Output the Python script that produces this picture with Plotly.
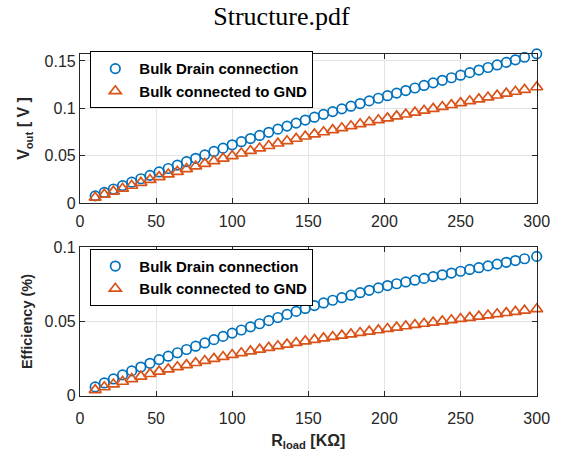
import plotly.graph_objects as go

r_load = [10, 16, 22, 28, 34, 40, 46, 52, 58, 64, 70, 76, 82, 88, 94, 100, 106, 112, 118, 124,
          130, 136, 142, 148, 154, 160, 166, 172, 178, 184, 190, 196, 202, 208, 214, 220, 226,
          232, 238, 244, 250, 256, 262, 268, 274, 280, 286, 292, 300]

vout_bulk_drain = [.0078, .0114, .0150, .0186, .0222, .0258, .0294, .0330, .0366, .0402, .0438,
                   .0474, .0510, .0546, .0581, .0616, .0649, .0682, .0715, .0748, .0781, .0813,
                   .0845, .0877, .0907, .0937, .0966, .0995, .1023, .1051, .1079, .1107, .1134,
                   .1161, .1188, .1215, .1242, .1269, .1296, .1323, .1350, .1377, .1404, .1431,
                   .1458, .1485, .1512, .1539, .1575]

vout_bulk_gnd = [.0060, .0092, .0124, .0155, .0186, .0217, .0247, .0277, .0305, .0333, .0361,
                 .0389, .0417, .0445, .0472, .0499, .0526, .0553, .0579, .0605, .0631, .0656,
                 .0681, .0705, .0728, .0750, .0772, .0793, .0814, .0835, .0856, .0877, .0897,
                 .0917, .0937, .0957, .0977, .0997, .1017, .1037, .1057, .1077, .1097, .1117,
                 .1137, .1157, .1177, .1197, .1224]

eff_bulk_drain = [.0060, .0087, .0114, .0141, .0168, .0194, .0219, .0244, .0267, .0290, .0312,
                  .0334, .0356, .0378, .0400, .0422, .0443, .0464, .0485, .0506, .0527, .0548,
                  .0568, .0588, .0607, .0625, .0643, .0660, .0677, .0694, .0710, .0726, .0742,
                  .0754, .0766, .0778, .0790, .0802, .0814, .0826, .0838, .0850, .0862, .0874,
                  .0886, .0898, .0910, .0922, .0938]

eff_bulk_gnd = [.0040, .0059, .0078, .0096, .0114, .0131, .0148, .0164, .0179, .0194, .0208,
                .0222, .0236, .0250, .0263, .0276, .0288, .0300, .0312, .0324, .0335, .0346,
                .0357, .0368, .0378, .0388, .0397, .0406, .0415, .0424, .0433, .0442, .0451,
                .0460, .0469, .0478, .0486, .0494, .0502, .0510, .0518, .0526, .0534, .0542,
                .0550, .0558, .0566, .0574, .0584]

names = ["Bulk Drain connection", "Bulk connected to GND"]
x_ticks = [0, 50, 100, 150, 200, 250, 300]
y1_ticks = [0, 0.05, 0.1, 0.15]
y1_labels = ["0", "0.05", "0.1", "0.15"]
y2_ticks = [0, 0.05, 0.1]
y2_labels = ["0", "0.05", "0.1"]

BLUE = "#0072BD"
ORANGE = "#D95319"
AX = "#262626"
GRID = "#e3e3e3"

W, H = 563, 462
fig = go.Figure()

def add(y, name, color, symbol, xa, ya, legend, size):
    fig.add_trace(go.Scatter(
        x=r_load, y=y, mode="markers", name=name, legend=legend,
        xaxis=xa, yaxis=ya,
        marker=dict(symbol=symbol, size=size, color=color,
                    line=dict(color=color, width=1.7)),
        cliponaxis=False))

add(vout_bulk_drain, names[0], BLUE, "circle-open", "x", "y", "legend", 9.5)
add(vout_bulk_gnd, names[1], ORANGE, "triangle-up-open", "x", "y", "legend", 10.5)
add(eff_bulk_drain, names[0], BLUE, "circle-open", "x2", "y2", "legend2", 9.5)
add(eff_bulk_gnd, names[1], ORANGE, "triangle-up-open", "x2", "y2", "legend2", 10.5)

xdom = [78.3 / W, 549.3 / W]
y1dom = [(H - 202.7) / H, (H - 47.5) / H]
y2dom = [(H - 402.7) / H, (H - 248.3) / H]

tickfont = dict(family="Liberation Sans, Arial", size=16, color=AX)
common = dict(showline=True, linecolor=AX, linewidth=1, mirror="ticks", ticks="inside",
              ticklen=5, tickcolor=AX, showgrid=True, gridcolor=GRID, gridwidth=1,
              zeroline=False, tickfont=tickfont)

legfont = dict(family="Liberation Sans, Arial", size=15, color="black", weight="bold")
labfont = dict(family="Liberation Sans, Arial", size=16, color=AX)

fig.update_layout(
    width=W, height=H,
    margin=dict(l=0, r=0, t=0, b=0),
    paper_bgcolor="white", plot_bgcolor="white",
    title=dict(text="Structure.pdf", x=0.5, xanchor="center", y=1 - 16 / H, yanchor="middle",
               font=dict(family="Liberation Serif, Times New Roman", size=26, color="black")),
    xaxis=dict(domain=xdom, range=[0, 300], tickvals=x_ticks, anchor="y",
               ticklabelstandoff=4, **common),
    yaxis=dict(domain=y1dom, range=[0, 0.1576], tickvals=y1_ticks, ticktext=y1_labels,
               anchor="x",
               title=dict(text="<b>V<sub>out</sub> [ V ]</b>", standoff=10, font=labfont),
               **common),
    xaxis2=dict(domain=xdom, range=[0, 300], tickvals=x_ticks, anchor="y2",
                ticklabelstandoff=8,
                title=dict(text="<b>R<sub>load</sub> [KΩ]</b>", standoff=8, font=labfont),
                **common),
    yaxis2=dict(domain=y2dom, range=[0, 0.1], tickvals=y2_ticks, ticktext=y2_labels,
                anchor="x2",
                title=dict(text="<b>Efficiency (%)</b>", standoff=8,
                           font=dict(family="Liberation Sans, Arial", size=14.5, color=AX)),
                **common),
    legend=dict(x=89 / W, y=(H - 45) / H, xanchor="left", yanchor="top",
                bordercolor="black", borderwidth=1, bgcolor="white", font=legfont,
                tracegroupgap=0, itemwidth=38),
    legend2=dict(x=89 / W, y=(H - 250) / H, xanchor="left", yanchor="top",
                 bordercolor="black", borderwidth=1, bgcolor="white", font=legfont,
                 tracegroupgap=0, itemwidth=38),
)

fig.write_html("out.html")
